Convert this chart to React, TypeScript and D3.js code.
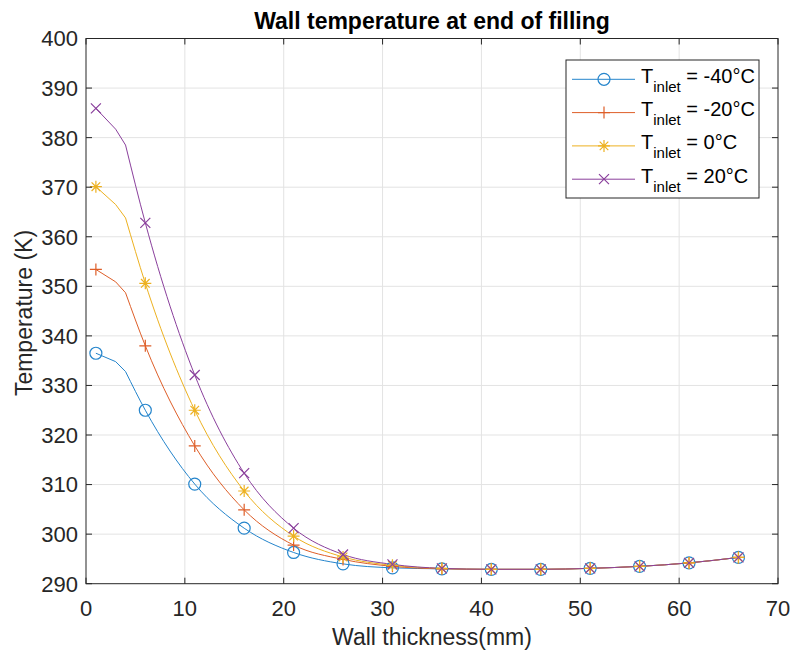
import React from "react";
import * as d3 from "d3";

const xLine = [1, 3, 4, 6, 11, 16, 21, 26, 31, 36, 41, 46, 51, 56, 61, 66];
const xMarkers = [1, 6, 11, 16, 21, 26, 31, 36, 41, 46, 51, 56, 61, 66];
const tM40 = [336.5, 334.8, 332.8, 325.0, 310.1, 301.2, 296.3, 294.0, 293.2, 293.0, 292.9, 292.9, 293.1, 293.5, 294.2, 295.3];
const tM20 = [353.4, 350.9, 348.7, 338.0, 317.8, 304.9, 297.8, 294.9, 293.5, 293.0, 292.9, 292.9, 293.1, 293.5, 294.2, 295.3];
const t0 = [370.1, 366.5, 363.8, 350.6, 325.0, 308.7, 299.6, 295.4, 293.7, 293.1, 292.9, 292.9, 293.1, 293.5, 294.2, 295.3];
const t20 = [385.9, 381.7, 378.5, 362.8, 332.1, 312.3, 301.2, 295.9, 293.9, 293.1, 292.9, 292.9, 293.1, 293.5, 294.2, 295.3];
const seriesLabels = ["-40°C", "-20°C", "0°C", "20°C"];
const xTicks = [0, 10, 20, 30, 40, 50, 60, 70];
const yTicks = [290, 300, 310, 320, 330, 340, 350, 360, 370, 380, 390, 400];

const colors = ["#2585CC", "#DE5E28", "#EDB120", "#8A3F9C"];
const markerTypes = ["circle", "plus", "star", "cross"];
const FONT = "'Liberation Sans', Arial, Helvetica, sans-serif";

function Marker({ type, x, y, color }: { type: string; x: number; y: number; color: string }) {
  const s = 6;
  if (type === "circle") return <circle cx={x} cy={y} r={6} fill="none" stroke={color} strokeWidth={1.2} />;
  if (type === "plus")
    return (
      <path d={`M${x - s},${y}H${x + s}M${x},${y - s}V${y + s}`} stroke={color} strokeWidth={1.2} fill="none" />
    );
  if (type === "cross") {
    const c = 5;
    return (
      <path d={`M${x - c},${y - c}L${x + c},${y + c}M${x - c},${y + c}L${x + c},${y - c}`} stroke={color} strokeWidth={1.2} fill="none" />
    );
  }
  const c = 4.3;
  return (
    <path
      d={`M${x - s},${y}H${x + s}M${x},${y - s}V${y + s}M${x - c},${y - c}L${x + c},${y + c}M${x - c},${y + c}L${x + c},${y - c}`}
      stroke={color}
      strokeWidth={1.2}
      fill="none"
    />
  );
}

export default function App() {
  const W = 792, H = 655;
  const L = 86, R = 778, T = 38.5, B = 583.7;
  const x = d3.scaleLinear().domain([0, 70]).range([L, R]);
  const y = d3.scaleLinear().domain([290, 400]).range([B, T]);
  const series = [tM40, tM20, t0, t20];

  const linLine = d3.line<number>().x((_, i) => x(xLine[i])).y((d) => y(d)).curve(d3.curveLinear);
  const smooth = d3
    .line<number>()
    .x((_, i) => x(xLine[i + 2]))
    .y((d) => y(d))
    .curve(d3.curveMonotoneX);

  const axisColor = "#262626";
  const gridColor = "#e3e3e3";
  const tickLen = 6;

  const legX = 566, legY = 60, legW = 193, legH = 138;
  const rowH = 33.3;

  return (
    <svg width={W} height={H} style={{ position: "absolute", left: 0, top: 0, background: "#fff" }} fontFamily={FONT}>
      <rect x={0} y={0} width={W} height={H} fill="#fff" />
      {/* grid */}
      {xTicks.slice(1, -1).map((t) => (
        <line key={"gx" + t} x1={x(t)} x2={x(t)} y1={T} y2={B} stroke={gridColor} strokeWidth={1} />
      ))}
      {yTicks.slice(1, -1).map((t) => (
        <line key={"gy" + t} x1={L} x2={R} y1={y(t)} y2={y(t)} stroke={gridColor} strokeWidth={1} />
      ))}
      {/* lines */}
      {series.map((s, k) => (
        <g key={"s" + k}>
          <path d={linLine(s.slice(0, 3)) || ""} fill="none" stroke={colors[k]} strokeWidth={1} />
          <path d={smooth(s.slice(2)) || ""} fill="none" stroke={colors[k]} strokeWidth={1} />
        </g>
      ))}
      {/* markers */}
      {series.map((s, k) => (
        <g key={"m" + k}>
          {xLine.map((xv, i) =>
            xMarkers.includes(xv) ? (
              <Marker key={i} type={markerTypes[k]} x={x(xv)} y={y(s[i])} color={colors[k]} />
            ) : null
          )}
        </g>
      ))}
      {/* axes box */}
      <rect x={L} y={T} width={R - L} height={B - T} fill="none" stroke={axisColor} strokeWidth={1} />
      {xTicks.map((t) => (
        <g key={"xt" + t}>
          <line x1={x(t)} x2={x(t)} y1={B} y2={B - tickLen} stroke={axisColor} />
          <line x1={x(t)} x2={x(t)} y1={T} y2={T + tickLen} stroke={axisColor} />
          <text x={x(t)} y={616} textAnchor="middle" fontSize={22} fill={axisColor}>
            {t}
          </text>
        </g>
      ))}
      {yTicks.map((t) => (
        <g key={"yt" + t}>
          <line x1={L} x2={L + tickLen} y1={y(t)} y2={y(t)} stroke={axisColor} />
          <line x1={R} x2={R - tickLen} y1={y(t)} y2={y(t)} stroke={axisColor} />
          <text x={78} y={y(t)} dy="0.36em" textAnchor="end" fontSize={22} fill={axisColor}>
            {t}
          </text>
        </g>
      ))}
      {/* labels */}
      <text x={(L + R) / 2} y={29} textAnchor="middle" fontSize={23} fontWeight="bold" fill="#000">
        Wall temperature at end of filling
      </text>
      <text x={(L + R) / 2} y={645} textAnchor="middle" fontSize={23} fill={axisColor}>
        Wall thickness(mm)
      </text>
      <text
        transform={`translate(32,313) rotate(-90)`}
        textAnchor="middle"
        fontSize={23}
        fill={axisColor}
      >
        Temperature (K)
      </text>
      {/* legend */}
      <rect x={legX} y={legY} width={legW} height={legH} fill="#fff" stroke={axisColor} strokeWidth={1} />
      {seriesLabels.map((lab, k) => {
        const cy = legY + 19.3 + k * rowH;
        return (
          <g key={"lg" + k}>
            <line x1={572} x2={635} y1={cy} y2={cy} stroke={colors[k]} strokeWidth={1} />
            <Marker type={markerTypes[k]} x={604} y={cy} color={colors[k]} />
            <text x={641} y={cy + 3.5} fontSize={20} fill="#000">
              T
              <tspan dy={9} fontSize={15}>inlet</tspan>
              <tspan dy={-9}>{" = " + lab}</tspan>
            </text>
          </g>
        );
      })}
    </svg>
  );
}
